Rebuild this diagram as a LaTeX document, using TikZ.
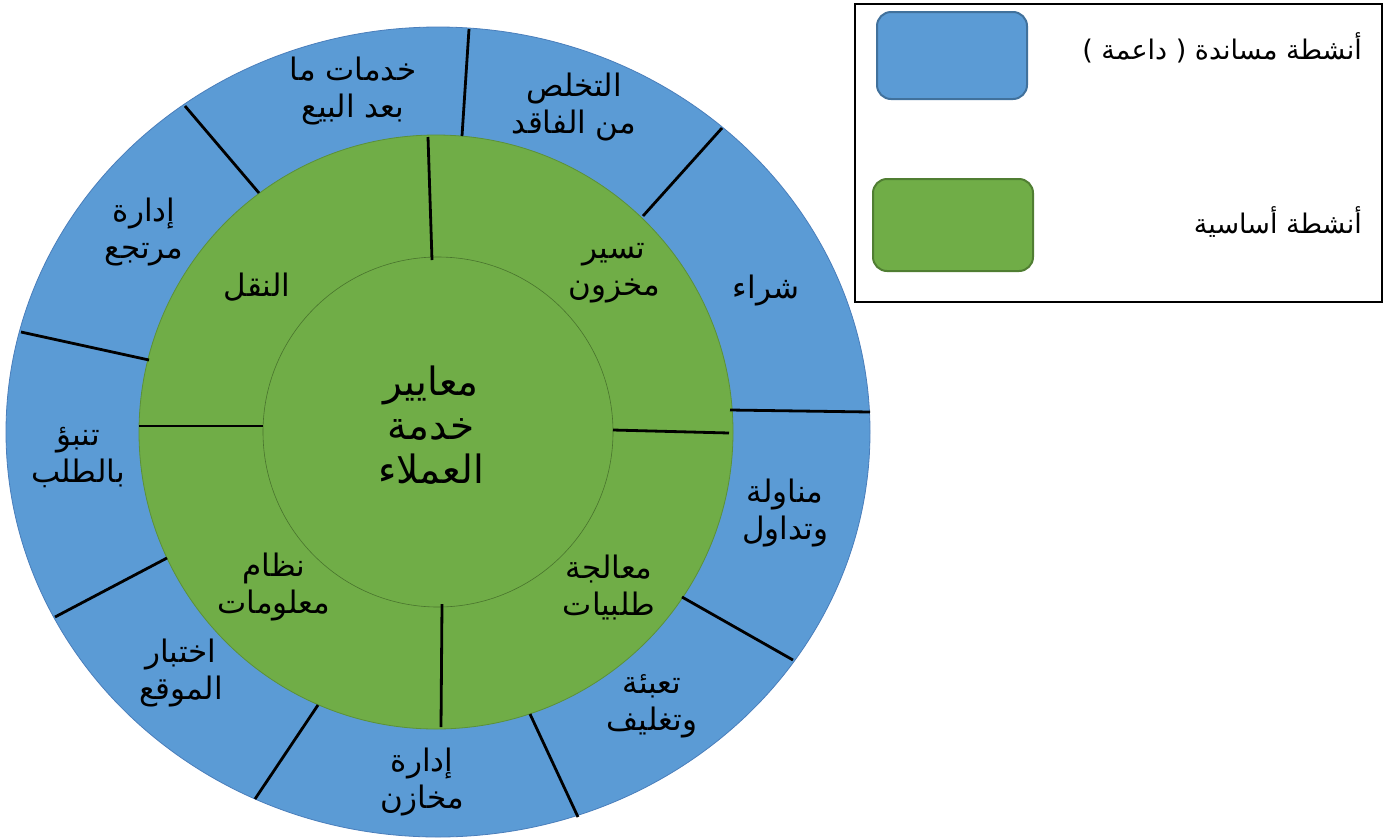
\documentclass[tikz,border=0pt]{standalone}
\usepackage{fontspec}
\setmainfont{DejaVu Sans}
\newfontfamily\arabicfont[Script=Arabic]{DejaVu Sans}
\TeXXeTstate=1
\newcommand{\artxt}[1]{\beginR#1\endR}

\definecolor{supblue}{HTML}{5B9BD5}
\definecolor{supedge}{HTML}{4A7EBB}
\definecolor{coregreen}{HTML}{70AD47}
\definecolor{coreedge}{HTML}{5B9138}
\definecolor{keyblue}{HTML}{41719C}
\definecolor{keygreen}{HTML}{507E32}

\tikzset{
  ringlbl/.style={font=\arabicfont\fontsize{31}{37}\selectfont, align=center, inner sep=0pt},
  hublbl/.style={font=\arabicfont\fontsize{39}{44}\selectfont, align=center, inner sep=0pt},
  keylbl/.style={font=\arabicfont\fontsize{27}{32}\selectfont, anchor=east, inner sep=0pt},
  divider/.style={line width=2.8pt},
  keybox/.style={rounded corners=14pt, line width=2pt},
}

\begin{document}
\begin{tikzpicture}[x=1pt,y=-1pt]
  \useasboundingbox (0,0) rectangle (1391,839);
  % rings
  \filldraw[fill=supblue,draw=supedge,line width=0.8pt] (438,432) ellipse [x radius=432,y radius=405];
  \filldraw[fill=coregreen,draw=coreedge,line width=0.8pt] (436,432) circle (297);
  \draw[draw=coreedge!80!black,line width=0.6pt] (438,432) circle (175);
  % outer ring dividers
  \draw[divider] (462,136) -- (469,29);
  \draw[divider] (643,216) -- (722,128);
  \draw[divider] (730,410) -- (870,412);
  \draw[divider] (682,597) -- (793,660);
  \draw[divider] (530,714) -- (578,817);
  \draw[divider] (318,705) -- (255,799);
  \draw[divider] (167,558) -- (55,617);
  \draw[divider] (149,360) -- (21,332);
  \draw[divider] (259,193) -- (185,106);
  % inner ring dividers
  \draw[divider] (432,260) -- (428,137);
  \draw[divider] (613,430) -- (729,433);
  \draw[divider] (442,604) -- (441,727);
  \draw[divider] (263,426) -- (139,426);
  % support activities
  \node[ringlbl] (aftersales) at (353,91) {\artxt{خدمات ما}\\\artxt{بعد البيع}};
  \node[ringlbl] (waste) at (574,107) {\artxt{التخلص}\\\artxt{من الفاقد}};
  \node[ringlbl] (purchase) at (766,290) {\artxt{شراء}};
  \node[ringlbl] (handling) at (785,513) {\artxt{مناولة}\\\artxt{وتداول}};
  \node[ringlbl] (packing) at (652,706) {\artxt{تعبئة}\\\artxt{وتغليف}};
  \node[ringlbl] (storage) at (422,782) {\artxt{إدارة}\\\artxt{مخازن}};
  \node[ringlbl] (siting) at (181,673) {\artxt{اختبار}\\\artxt{الموقع}};
  \node[ringlbl] (forecast) at (78,458) {\artxt{تنبؤ}\\\artxt{بالطلب}};
  \node[ringlbl] (returns) at (144,232) {\artxt{إدارة}\\\artxt{مرتجع}};
  % core activities
  \node[ringlbl] (inventory) at (614,273) {\artxt{تسير}\\\artxt{مخزون}};
  \node[ringlbl] (orders) at (609,587) {\artxt{معالجة}\\\artxt{طلبيات}};
  \node[ringlbl] (infosys) at (274,587) {\artxt{نظام}\\\artxt{معلومات}};
  \node[ringlbl] (transport) at (257,287) {\artxt{النقل}};
  \node[hublbl] (service) at (431,425) {\artxt{معايير}\\\artxt{خدمة}\\\artxt{العملاء}};
  % legend
  \draw[line width=1.2pt] (855,4) rectangle (1382,302);
  \filldraw[keybox,fill=supblue,draw=keyblue] (877,12) rectangle (1027,99);
  \filldraw[keybox,fill=coregreen,draw=keygreen] (873,179) rectangle (1033,271);
  \node[keylbl] (supkey) at (1362,48) {\artxt{أنشطة مساندة ( داعمة )}};
  \node[keylbl] (corekey) at (1362,222) {\artxt{أنشطة أساسية}};
\end{tikzpicture}
\end{document}
